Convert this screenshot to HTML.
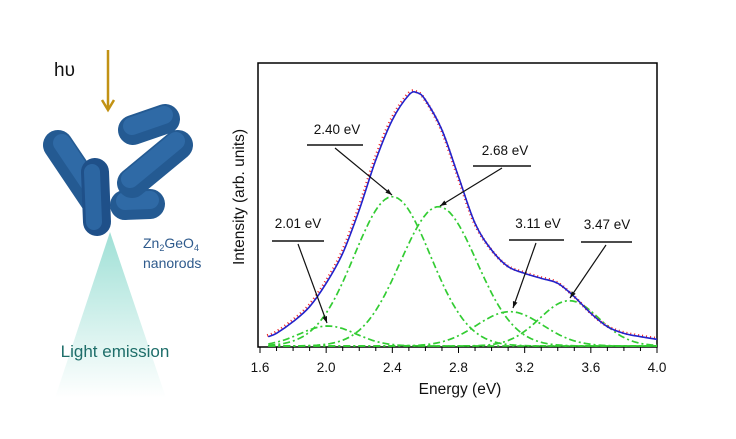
<!DOCTYPE html>
<html><head><meta charset="utf-8"><style>
body{margin:0;background:#fff;width:736px;height:439px;overflow:hidden;font-family:"Liberation Sans",sans-serif}
svg{display:block}
</style></head><body>
<svg width="736" height="439" viewBox="0 0 736 439">
<defs>
<linearGradient id="cone" x1="0" y1="0" x2="0" y2="1"><stop offset="0" stop-color="#9fe0d6"/><stop offset="1" stop-color="#ffffff"/></linearGradient>
</defs>
<g>
<polygon points="110,232 55,398 166,398" fill="url(#cone)"/>
<text x="54" y="76" font-size="19" fill="#111">hυ</text>
<line x1="108" y1="50" x2="108" y2="108" stroke="#c29214" stroke-width="2.5"/>
<polyline points="102,100 108,110 114,100" fill="none" stroke="#c29214" stroke-width="2.5"/>
<g stroke-linecap="round">
<line x1="58" y1="145" x2="95" y2="200" stroke="#245a92" stroke-width="30"/>
<line x1="62" y1="143" x2="99" y2="198" stroke="#2f6aa6" stroke-width="18"/>
<line x1="125" y1="205" x2="150" y2="204" stroke="#245a92" stroke-width="30"/>
<line x1="125" y1="201" x2="150" y2="200" stroke="#2f6aa6" stroke-width="18"/>
<line x1="95" y1="172" x2="97" y2="222" stroke="#1f5089" stroke-width="28"/>
<line x1="92" y1="172" x2="94" y2="222" stroke="#2c66a2" stroke-width="16"/>
<line x1="132" y1="183" x2="178" y2="145" stroke="#245a92" stroke-width="30"/>
<line x1="130" y1="179" x2="176" y2="141" stroke="#2f6aa6" stroke-width="18"/>
<line x1="133" y1="130" x2="165" y2="119" stroke="#245a92" stroke-width="30"/>
<line x1="132" y1="126" x2="164" y2="115" stroke="#2f6aa6" stroke-width="18"/>
</g>
<text x="143" y="248" font-size="14" fill="#2e5a8c">Zn<tspan font-size="9" dy="3">2</tspan><tspan dy="-3">GeO</tspan><tspan font-size="9" dy="3">4</tspan></text>
<text x="143" y="268" font-size="14" fill="#2e5a8c">nanorods</text>
<text x="115" y="357" font-size="17" fill="#1e6e6a" text-anchor="middle">Light emission</text>
</g>
<g id="chart"></g>
</svg>
<script>
const energies=[1.65,1.7,1.8,1.9,2.0,2.1,2.2,2.3,2.4,2.5,2.55,2.6,2.7,2.8,2.9,3.0,3.1,3.2,3.3,3.4,3.5,3.6,3.7,3.8,3.9,4.0];
const totalIntensity=[28,38,73,118,188,278,408,558,678,753,760,738,648,508,368,288,238,218,203,188,148,98,58,38,28,20];
const peakCenters=[2.01,2.40,2.68,3.11,3.47];
const peakHeights=[60,448,418,103,136];
const peakWidths=[0.17,0.23,0.23,0.2,0.18];
const peakLabels=["2.01 eV","2.40 eV","2.68 eV","3.11 eV","3.47 eV"];
const xTicks=[1.6,2.0,2.4,2.8,3.2,3.6,4.0];
const ns="http://www.w3.org/2000/svg";
const g=document.getElementById('chart');
const X0=260,X1=657,Y0=346;
function xs(e){return X0+(e-1.6)/2.4*(X1-X0);}
function ys(v){return Y0-v/3;}
function mk(t,a,p){const e=document.createElementNS(ns,t);for(const k in a)e.setAttribute(k,a[k]);(p||g).appendChild(e);return e;}
const frame=mk('rect',{x:258,y:63,width:399,height:284,fill:'none',stroke:'#000','stroke-width':1.5});


for(let i=0;i<=24;i++){const e=1.6+i*0.1;mk('line',{x1:xs(e),x2:xs(e),y1:347,y2:i%4==0?353:351,stroke:'#000','stroke-width':1});}
xTicks.forEach(t=>{const tx=mk('text',{x:xs(t),y:372,'font-size':13.5,'text-anchor':'middle',fill:'#111'});tx.textContent=t.toFixed(1);

});
const xt=mk('text',{x:460,y:394,'font-size':15.5,'text-anchor':'middle',fill:'#111'});xt.textContent='Energy (eV)';


const yt=mk('text',{x:0,y:0,'font-size':15.5,'text-anchor':'middle',fill:'#111',transform:'translate(244,197) rotate(-90)'});yt.textContent='Intensity (arb. units)';


peakCenters.forEach((c,i)=>{let d='';for(let k=0;k<=120;k++){const e=1.65+k*(2.35/120);const v=peakHeights[i]*Math.exp(-Math.pow(e-c,2)/(2*peakWidths[i]*peakWidths[i]));d+=(k?'L':'M')+xs(e).toFixed(1)+','+ys(v).toFixed(1);}
const p=mk('path',{d:d,fill:'none',stroke:'#33cc33','stroke-width':1.7,'stroke-dasharray':'7,3,2,3'});

});
function smooth(){const P=energies.map((e,i)=>[xs(e),ys(totalIntensity[i])]);let d='M'+P[0][0]+','+P[0][1];
for(let i=0;i<P.length-1;i++){const p0=P[Math.max(0,i-1)],p1=P[i],p2=P[i+1],p3=P[Math.min(P.length-1,i+2)];
d+=' C'+(p1[0]+(p2[0]-p0[0])/6)+','+(p1[1]+(p2[1]-p0[1])/6)+' '+(p2[0]-(p3[0]-p1[0])/6)+','+(p2[1]-(p3[1]-p1[1])/6)+' '+p2[0]+','+p2[1];}return d;}
const dd=smooth();
const red=mk('path',{d:dd,fill:'none',stroke:'#ee2222','stroke-width':3,'stroke-dasharray':'1,3',transform:'translate(-1,-1)'});


const blue=mk('path',{d:dd,fill:'none',stroke:'#2222cc','stroke-width':1.6});


const ann=[[298,228,272,324,241,298,244,327,323],[337,134,307,363,145,335,148,392,195],[505,155,473,531,166,502,168,440,206],[538,228,509,564,240,536,243,513,308],[607,229,581,632,242,606,245,570,298]];
ann.forEach((a,i)=>{const t=mk('text',{x:a[0],y:a[1],'font-size':13.5,'text-anchor':'middle',fill:'#111'});t.textContent=peakLabels[i];


mk('line',{x1:a[2],x2:a[3],y1:a[4],y2:a[4],stroke:'#111','stroke-width':1.5});
mk('line',{x1:a[5],y1:a[6],x2:a[7],y2:a[8],stroke:'#111','stroke-width':1.2});
const ang=Math.atan2(a[8]-a[6],a[7]-a[5]),L=7;
const p1=[a[7]-L*Math.cos(ang-0.35),a[8]-L*Math.sin(ang-0.35)],p2=[a[7]-L*Math.cos(ang+0.35),a[8]-L*Math.sin(ang+0.35)];
mk('polygon',{points:a[7]+','+a[8]+' '+p1.join(',')+' '+p2.join(','),fill:'#111'});});
</script>
</body></html>
